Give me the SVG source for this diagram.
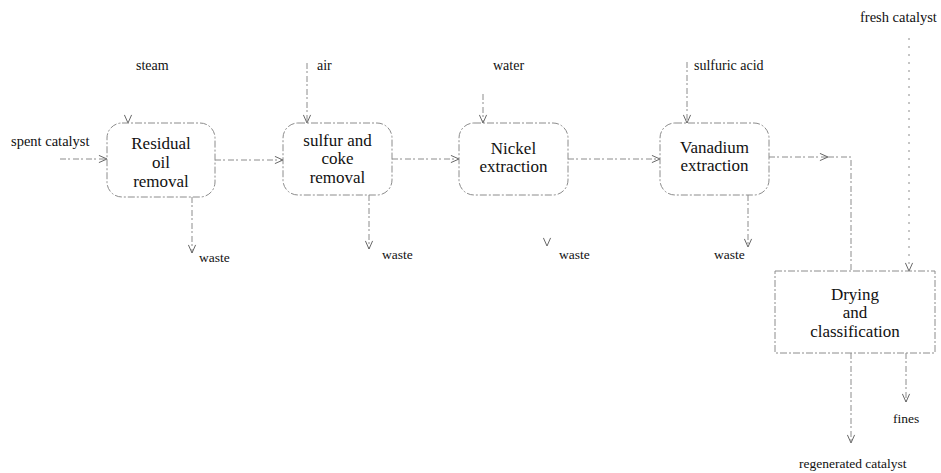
<svg xmlns="http://www.w3.org/2000/svg" width="941" height="473" viewBox="0 0 941 473">
<style>
.bg{fill:#fff}
.box{fill:none;stroke:#8c8c8c;stroke-width:1;stroke-dasharray:7 2 2 2}
.ln{fill:none;stroke:#8c8c8c;stroke-width:1;stroke-dasharray:6 2 2 3;marker-end:url(#ah)}
.ln2{fill:none;stroke:#8c8c8c;stroke-width:1;stroke-dasharray:6 2 2 3}
.ghost{fill:none;stroke:none;marker-end:url(#ah)}
.t{font-family:"Liberation Serif","Times New Roman",serif;font-size:17px;fill:#111;text-anchor:middle}
.s{font-family:"Liberation Serif","Times New Roman",serif;font-size:13.5px;fill:#111}
</style>
<defs>
<marker id="ah" viewBox="0 0 10 10" refX="10" refY="5" markerWidth="9" markerHeight="9" markerUnits="userSpaceOnUse" orient="auto">
<path d="M1,1 L10,5 L1,9" fill="none" stroke="#666" stroke-width="1.1"/>
</marker>
</defs>
<rect class="bg" x="0" y="0" width="941" height="473"/>

<g id="connectors">
<path class="ln" d="M60,159 L107,159"/>
<path class="ghost" d="M128,110 L128,123"/>
<path class="ln" d="M192,197 L192,253"/>
<path class="ln" d="M215,160 L283,160"/>
<path class="ln" d="M307,63 L307,123"/>
<path class="ln" d="M369,195 L369,249"/>
<path class="ln" d="M392,159 L459,159"/>
<path class="ln" d="M483,94 L483,123"/>
<path class="ghost" d="M547,232 L547,246"/>
<path class="ln" d="M568,159 L660,159"/>
<path class="ln" d="M687,62 L687,123"/>
<path class="ln" d="M748,195 L748,247"/>
<path class="ln" d="M769,157 L828,157"/>
<path class="ln2" d="M828,157 L851,157 L851,271"/>
<path class="ln" d="M909,38 L909,271" style="stroke-dasharray:2 6"/>
<path class="ln" d="M851,353 L851,443"/>
<path class="ln" d="M906,353 L906,402"/>
</g>

<g id="labels">
<text class="s" x="11" y="146" style="font-size:14.5px">spent catalyst</text>
<text class="s" x="136" y="70" style="font-size:14px">steam</text>
<text class="s" x="317" y="70" style="font-size:14px">air</text>
<text class="s" x="493" y="70" style="font-size:14px">water</text>
<text class="s" x="694" y="70" style="font-size:14px">sulfuric acid</text>
<text class="s" x="860" y="22" style="font-size:14.5px">fresh catalyst</text>
<text class="s" x="199" y="262">waste</text>
<text class="s" x="382" y="259">waste</text>
<text class="s" x="559" y="259">waste</text>
<text class="s" x="714" y="259">waste</text>
<text class="s" x="893" y="423">fines</text>
<text class="s" x="799" y="468">regenerated catalyst</text>
</g>

<g id="residual-oil-removal">
<rect class="box" x="107" y="123" width="108" height="74" rx="15"/>
<text class="t" x="161" y="149">Residual</text>
<text class="t" x="161" y="168">oil</text>
<text class="t" x="161" y="187">removal</text>
</g>

<g id="sulfur-coke-removal">
<rect class="box" x="283" y="123" width="109" height="72" rx="15"/>
<text class="t" x="337.5" y="146">sulfur and</text>
<text class="t" x="337.5" y="164">coke</text>
<text class="t" x="337.5" y="183">removal</text>
</g>

<g id="nickel-extraction">
<rect class="box" x="459" y="123" width="109" height="72" rx="15"/>
<text class="t" x="513.5" y="154">Nickel</text>
<text class="t" x="513.5" y="172">extraction</text>
</g>

<g id="vanadium-extraction">
<rect class="box" x="660" y="123" width="109" height="72" rx="15"/>
<text class="t" x="714.5" y="153">Vanadium</text>
<text class="t" x="714.5" y="171">extraction</text>
</g>

<g id="drying-classification">
<rect class="box" x="775" y="271" width="160" height="82"/>
<text class="t" x="855" y="300">Drying</text>
<text class="t" x="855" y="318">and</text>
<text class="t" x="855" y="337">classification</text>
</g>
</svg>
